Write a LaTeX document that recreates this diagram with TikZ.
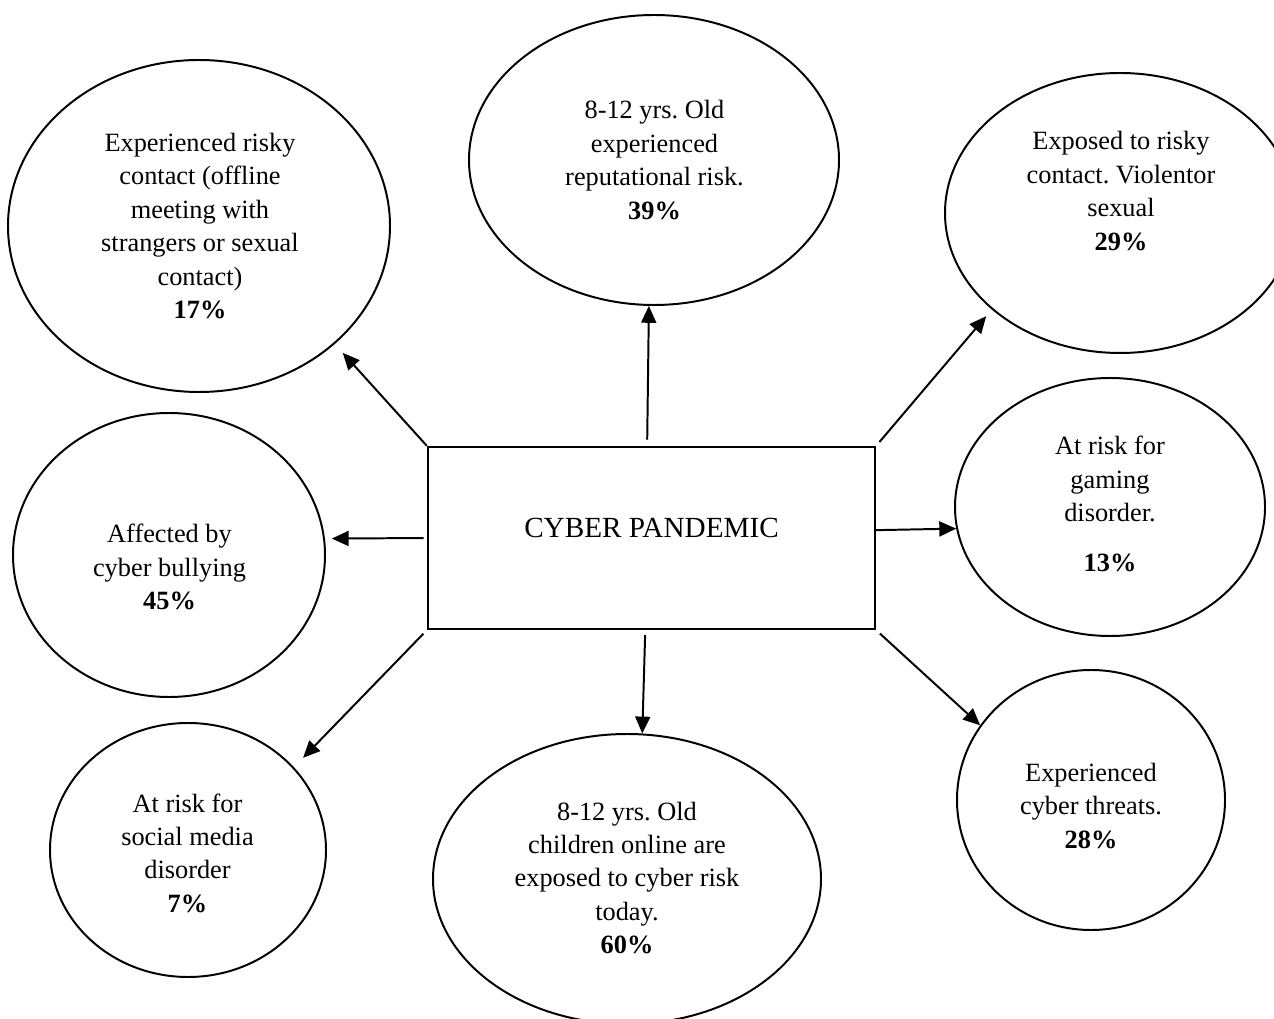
\documentclass[tikz,border=0pt]{standalone}
\usepackage{fontspec}
\setmainfont{Liberation Serif}
\usetikzlibrary{shapes.geometric}
\usetikzlibrary{arrows.meta}
\frenchspacing

\begin{document}
\begin{tikzpicture}[x=0.016cm, y=-0.016cm,
    bubble/.style 2 args={draw, ellipse, line width=0.9pt, inner sep=0pt, minimum width=#1*0.016cm, minimum height=#2*0.016cm},
    note/.style={align=center, inner sep=0pt, font=\fontsize{12}{15.2}\selectfont},
    arr/.style={line width=0.9pt, -{Triangle[length=0.27cm, width=0.24cm]}}]
      \clip (0, 0) rectangle (1274, 1019);
      \node[draw, line width=1.1pt, minimum width=447*0.016cm, minimum height=182*0.016cm] (box) at (651.5, 538) {};
      \node[font=\fontsize{13.3}{16}\selectfont] (box-txt) at (651.5, 528) {CYBER PANDEMIC};

      \node[bubble={382}{332}] (tl) at (199, 226) {};
      \node[bubble={370}{290}] (tc) at (654, 160) {};
      \node[bubble={350}{280}] (tr) at (1120, 213) {};
      \node[bubble={312}{284}] (ml) at (169, 555) {};
      \node[bubble={310}{258}] (mr) at (1110, 507) {};
      \node[bubble={276}{254}] (bl) at (188, 850) {};
      \node[bubble={388}{290}] (bc) at (627, 879) {};
      \node[bubble={268}{260}] (br) at (1091, 800) {};

      \node[note] (tl-txt) at (200, 226) {Experienced risky\\contact (offline\\meeting with\\strangers or sexual\\contact)\\\textbf{17\%}};
      \node[note] (tc-txt) at (654.5, 160) {8-12 yrs. Old\\experienced\\reputational risk.\\\textbf{39\%}};
      \node[note] (tr-txt) at (1121, 191) {Exposed to risky\\contact. Violentor\\sexual\\\textbf{29\%}};
      \node[note] (ml-txt) at (169.5, 567) {Affected by\\cyber bullying\\\textbf{45\%}};
      \node[note] (mr-txt) at (1110, 504) {At risk for\\gaming\\disorder.\\[7.6pt]\textbf{13\%}};
      \node[note] (bl-txt) at (187.5, 853) {At risk for\\social media\\disorder\\\textbf{7\%}};
      \node[note] (bc-txt) at (627, 878) {8-12 yrs. Old\\children online are\\exposed to cyber risk\\today.\\\textbf{60\%}};
      \node[note] (br-txt) at (1091, 806) {Experienced\\cyber threats.\\\textbf{28\%}};

      \draw[arr, shorten >=0.19cm] (box.north west) -- (tl.-41);
      \draw[arr, shorten <=0.1cm] ([xshift=-0.07cm]box.north) -- (tc.-92);
      \draw[arr, shorten <=0.08cm, shorten >=0.14cm] (box.north east) -- (tr.-143);
      \draw[arr, shorten <=0.05cm, shorten >=0.11cm] (box.west) -- (ml.6);
      \draw[arr] (box.2) -- (mr.188);
      \draw[arr, shorten <=0.08cm, shorten >=0.21cm] (box.south west) -- (bl.38);
      \draw[arr, shorten <=0.08cm] ([xshift=-0.1cm]box.south) -- (bc.84);
      \draw[arr, shorten <=0.08cm] (box.south east) -- (br.146);
\end{tikzpicture}
\end{document}
